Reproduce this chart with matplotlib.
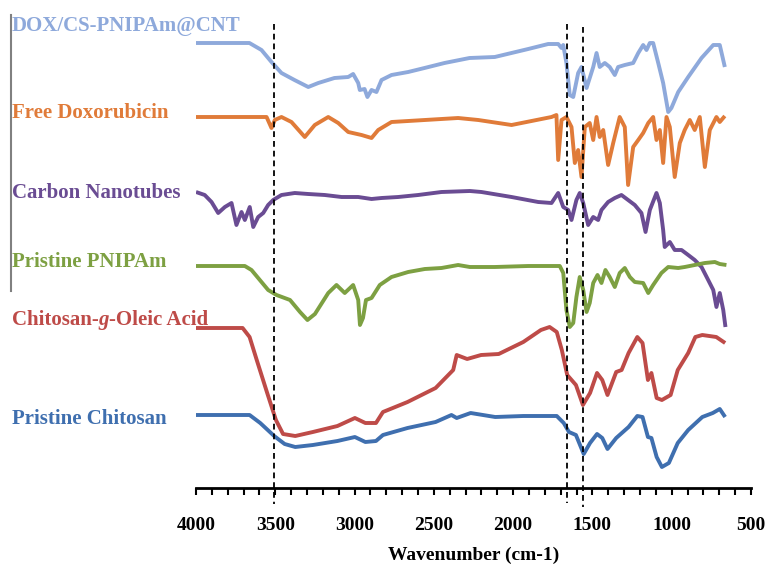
import matplotlib
matplotlib.use("Agg")
import matplotlib.pyplot as plt
from matplotlib.lines import Line2D
from matplotlib.ticker import MultipleLocator

plt.rcParams['font.family'] = ['Liberation Serif', 'DejaVu Serif']

# ---------------- data (wavenumber, offset transmittance a.u.) ----------------
dox_cs_wn = [4000, 3663, 3587, 3524, 3461, 3379, 3292, 3229, 3127, 3040,
             3009, 2977, 2967, 2937, 2919, 2893, 2862, 2830, 2767, 2662,
             2559, 2433, 2275, 2116, 1905, 1779, 1716, 1695, 1684, 1664,
             1643, 1621, 1590, 1569, 1537, 1495, 1474, 1454, 1422, 1391,
             1359, 1338, 1296, 1243, 1211, 1180, 1159, 1138, 1117, 1085,
             1054, 1022, 1002, 959, 896, 812, 738, 697, 665]
dox_cs_t = [457, 457, 450, 438, 427, 420, 413, 417, 422, 423,
            426, 417, 410, 411, 403, 410, 408, 420, 425, 428,
            432, 437, 442, 443, 451, 456, 456, 452, 455, 437,
            405, 403, 427, 433, 412, 433, 447, 433, 437, 433,
            425, 433, 435, 437, 447, 455, 450, 457, 457, 437,
            417, 388, 392, 408, 423, 442, 455, 455, 433]

free_dox_wn = [4000, 3555, 3524, 3503, 3461, 3398, 3314, 3251, 3166, 3103,
               3040, 2956, 2893, 2851, 2767, 2557, 2347, 2220, 2010, 1758,
               1727, 1716, 1695, 1664, 1632, 1611, 1590, 1569, 1548, 1517,
               1495, 1474, 1454, 1432, 1401, 1369, 1328, 1296, 1275, 1243,
               1211, 1180, 1148, 1117, 1096, 1075, 1054, 1033, 1012, 981,
               949, 918, 886, 855, 823, 791, 760, 718, 697, 665]
free_dox_t = [383, 383, 372, 380, 383, 378, 363, 375, 383, 377,
              368, 365, 362, 370, 378, 380, 382, 380, 375, 383,
              385, 340, 380, 383, 373, 337, 350, 323, 373, 377,
              360, 383, 363, 370, 335, 357, 383, 373, 315, 353,
              360, 367, 377, 383, 360, 370, 337, 383, 373, 323,
              357, 370, 380, 370, 383, 333, 370, 383, 378, 384]

cnt_wn = [4000, 3945, 3902, 3860, 3818, 3776, 3745, 3713, 3692, 3661,
          3639, 3608, 3576, 3545, 3513, 3461, 3377, 3292, 3188, 3082,
          2977, 2893, 2830, 2725, 2599, 2452, 2273, 2200, 2010, 1842,
          1758, 1716, 1684, 1653, 1632, 1601, 1580, 1558, 1527, 1495,
          1464, 1443, 1401, 1359, 1317, 1275, 1233, 1191, 1165, 1138,
          1096, 1075, 1054, 1044, 1012, 981, 938, 896, 855, 812,
          770, 738, 718, 697, 675, 661]
cnt_t = [308, 305, 298, 287, 293, 297, 275, 288, 280, 293,
         273, 283, 287, 295, 300, 305, 307, 306, 305, 303,
         303, 301, 302, 303, 305, 308, 309, 308, 303, 298,
         297, 307, 293, 290, 280, 300, 307, 297, 275, 283,
         280, 290, 298, 302, 305, 300, 295, 287, 268, 290,
         307, 297, 270, 253, 258, 250, 250, 245, 240, 233,
         220, 210, 193, 207, 190, 173]

pnipam_wn = [4000, 3692, 3650, 3545, 3492, 3407, 3344, 3297, 3250, 3166,
             3114, 3062, 3009, 2977, 2966, 2947, 2928, 2893, 2841, 2767,
             2662, 2557, 2452, 2347, 2273, 2116, 1905, 1706, 1684, 1664,
             1643, 1621, 1601, 1580, 1558, 1537, 1517, 1495, 1468, 1443,
             1418, 1391, 1359, 1328, 1296, 1264, 1233, 1180, 1148, 1117,
             1065, 1022, 959, 918, 855, 791, 728, 697, 655]
pnipam_t = [234, 234, 230, 210, 205, 200, 188, 180, 186, 207,
            215, 207, 215, 200, 175, 182, 200, 202, 215, 223,
            228, 231, 232, 235, 233, 233, 234, 234, 227, 190,
            173, 177, 203, 223, 210, 188, 197, 217, 225, 217,
            230, 223, 213, 227, 232, 223, 218, 217, 207, 215,
            227, 233, 232, 233, 235, 237, 238, 236, 235]

chit_oa_wn = [4000, 3706, 3662, 3617, 3551, 3496, 3451, 3374, 3263, 3108,
              2998, 2932, 2865, 2821, 2666, 2489, 2378, 2356, 2290, 2202,
              2091, 1936, 1825, 1770, 1725, 1693, 1659, 1604, 1560, 1515,
              1471, 1438, 1405, 1350, 1316, 1272, 1217, 1184, 1150, 1128,
              1095, 1062, 1007, 962, 896, 851, 807, 719, 663]
chit_oa_t = [172, 172, 163, 140, 107, 80, 66, 64, 68, 74,
             82, 77, 77, 88, 98, 112, 130, 145, 141, 145,
             146, 158, 170, 173, 168, 150, 125, 115, 95, 107,
             127, 120, 105, 128, 130, 147, 163, 157, 120, 127,
             102, 100, 105, 130, 147, 163, 165, 163, 157]

chitosan_wn = [4000, 3662, 3595, 3507, 3441, 3374, 3263, 3108, 2998, 2932,
               2865, 2821, 2666, 2489, 2389, 2356, 2268, 2113, 1936, 1725,
               1681, 1648, 1604, 1555, 1515, 1471, 1438, 1405, 1350, 1272,
               1217, 1184, 1150, 1128, 1095, 1062, 1018, 962, 896, 807,
               741, 697, 663]
chitosan_t = [85, 85, 77, 64, 56, 53, 55, 59, 63, 58,
              59, 65, 72, 78, 85, 82, 87, 83, 84, 84,
              77, 68, 65, 46, 57, 66, 62, 51, 62, 73,
              84, 83, 63, 62, 43, 33, 37, 57, 70, 83,
              87, 91, 83]

series_names = ["DOX/CS-PNIPAm@CNT", "Free Doxorubicin", "Carbon Nanotubes",
                "Pristine PNIPAm", "Chitosan-g-Oleic Acid", "Pristine Chitosan"]
series_colors = ["#8EA9DB", "#E07B39", "#6A4C93", "#7DA042", "#BE4B48", "#3F6FAF"]
series_data = [(dox_cs_wn, dox_cs_t), (free_dox_wn, free_dox_t), (cnt_wn, cnt_t),
               (pnipam_wn, pnipam_t), (chit_oa_wn, chit_oa_t), (chitosan_wn, chitosan_t)]

dashed_wn = [3510, 1660, 1560]
x_ticks = [4000, 3500, 3000, 2500, 2000, 1500, 1000, 500]

# ---------------- figure ----------------
W, H = 771, 569
fig = plt.figure(figsize=(W / 100, H / 100), dpi=100)
ax = fig.add_axes([196 / W, 81 / H, 555 / W, 488 / H])
ax.set_xlim(4000, 500)
ax.set_ylim(12, 500)

for (wn, t), c in zip(series_data, series_colors):
    ax.plot(wn, t, color=c, lw=2.8, solid_joinstyle='round', solid_capstyle='butt')

# dashed reference lines
dash_tops = [476, 476, 473]
dash_bottoms = [-4, -3, -7]
for wn, y0, y1 in zip(dashed_wn, dash_tops, dash_bottoms):
    ax.plot([wn, wn], [y0, y1], color='black', lw=1.3, ls=(0, (3.2, 2.2)), clip_on=False)

for s in ['top', 'right', 'left']:
    ax.spines[s].set_visible(False)
ax.spines['bottom'].set_linewidth(2.0)
ax.yaxis.set_visible(False)
ax.set_xticks(x_ticks)
ax.xaxis.set_minor_locator(MultipleLocator(100))
ax.tick_params(axis='x', which='both', direction='out', length=5, width=1.5, color='black')
ax.tick_params(axis='x', which='major', pad=16, labelsize=14)
for lbl in ax.get_xticklabels():
    lbl.set_fontweight('bold')
ax.set_xlabel("Wavenumber (cm-1)", fontsize=14, fontweight='bold', labelpad=9)

# left vertical bar
fig.add_artist(Line2D([11 / W, 11 / W], [1 - 15 / H, 1 - 291 / H], color='#808080', lw=1.5))

# series labels
label_baselines = [30.7, 118.3, 198.3, 267.3, 325, 424]
label_x = 12
for name, c, yb in zip(series_names, series_colors, label_baselines):
    if name.startswith("Chitosan-g"):
        t1 = fig.text(label_x / W, 1 - yb / H, "Chitosan-", color=c, fontsize=15,
                      fontweight='bold', va='baseline', ha='left')
        t2 = ax.annotate("g", xy=(1, 0), xycoords=t1, va='bottom', ha='left', color=c,
                         fontsize=15, fontweight='bold', fontstyle='italic', annotation_clip=False)
        ax.annotate("-Oleic Acid", xy=(1, 0), xycoords=t2, va='bottom', ha='left', color=c,
                    fontsize=15, fontweight='bold', annotation_clip=False)
    else:
        fig.text(label_x / W, 1 - yb / H, name, color=c, fontsize=15,
                 fontweight='bold', va='baseline', ha='left')

fig.savefig("out.png", dpi=100)
